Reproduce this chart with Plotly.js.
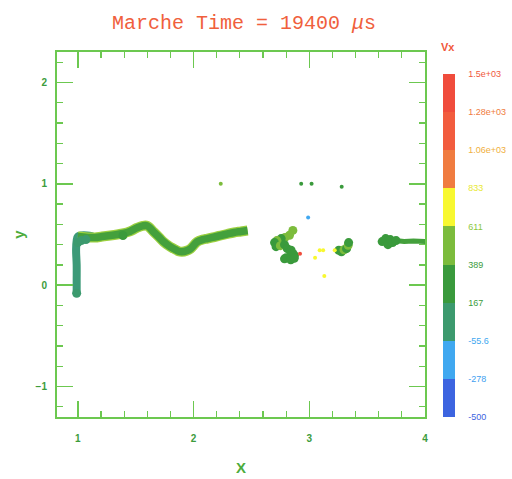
<!DOCTYPE html>
<html>
<head>
<meta charset="utf-8">
<script src="https://cdn.plot.ly/plotly-3.0.1.min.js"></script>
<style>html,body{margin:0;padding:0;background:#fff;}#chart{width:512px;height:479px;}</style>
</head>
<body>
<div id="chart"></div>
<script>
// ---- data ----
// vertical stem of the interface (teal, Vx ~ 100)
const stemX = [0.99, 0.99, 0.99, 0.985, 0.99, 1.0, 1.03, 1.08, 1.13];
const stemY = [-0.08, 0.05, 0.2, 0.35, 0.44, 0.48, 0.49, 0.49, 0.48];
// main interface band (green, Vx ~ 300)
const bandX = [1.0, 1.05, 1.10, 1.15, 1.21, 1.28, 1.34, 1.39, 1.45, 1.51, 1.56, 1.60, 1.655, 1.70, 1.742, 1.79, 1.829, 1.87, 1.90, 1.94, 1.974, 2.03, 2.08, 2.12, 2.18, 2.235, 2.29, 2.35, 2.41, 2.467];
const bandY = [0.48, 0.475, 0.47, 0.47, 0.48, 0.49, 0.50, 0.51, 0.53, 0.565, 0.585, 0.585, 0.525, 0.475, 0.427, 0.385, 0.36, 0.335, 0.33, 0.34, 0.36, 0.427, 0.45, 0.46, 0.475, 0.49, 0.505, 0.52, 0.53, 0.54];
// tail of the right-hand blob
const tailX = [3.74, 3.82, 3.90, 3.97, 4.02];
const tailY = [0.44, 0.43, 0.435, 0.43, 0.43];
// blobs (fluid parcels) with their Vx
const blobX = [0.99, 1.0, 1.03, 1.07, 1.39, 2.858, 2.829, 2.79, 2.757, 2.72, 2.70, 2.713, 2.75, 2.786, 2.81, 2.843, 2.86, 2.872, 2.829, 2.80, 2.786, 2.84, 2.87, 3.255, 3.278, 3.30, 3.322, 3.336, 3.34, 3.63, 3.66, 3.68, 3.70, 3.72, 3.75];
const blobY = [-0.08, 0.42, 0.44, 0.45, 0.49, 0.54, 0.493, 0.47, 0.46, 0.44, 0.42, 0.38, 0.39, 0.40, 0.36, 0.345, 0.31, 0.29, 0.28, 0.27, 0.26, 0.25, 0.265, 0.345, 0.33, 0.35, 0.36, 0.394, 0.42, 0.43, 0.46, 0.40, 0.45, 0.42, 0.44];
const blobV = [100, 100, 100, 100, 300, 500, 500, 500, 300, 500, 300, 300, 500, 300, 300, 300, 300, 300, 300, 300, 300, 300, 300, 300, 300, 500, 300, 500, 300, 300, 300, 300, 300, 300, 300];
// isolated specks
const speckX = [2.92, 2.93, 3.02, 3.28, 2.235, 2.99, 3.09, 3.12, 3.05, 3.13, 3.22];
const speckY = [0.31, 1.0, 1.0, 0.97, 1.0, 0.667, 0.345, 0.345, 0.27, 0.09, 0.345];
const speckV = [1400, 300, 300, 300, 500, -150, 700, 700, 700, 700, 700];
// colour bar levels and labels
const levelVals = [-500, -277.8, -55.6, 166.7, 388.9, 611.1, 833.3, 1055.6, 1277.8, 1500];
const levelText = ['-500', '-278', '-55.6', '167', '389', '611', '833', '1.06e+03', '1.28e+03', '1.5e+03'];
const levelTextColors = ['#3c64e0', '#40a0f0', '#40a8f0', '#3c9c3c', '#3c9c3c', '#8cc83c', '#e8e830', '#f0b040', '#f07c40', '#f0583c'];
const bandColors = ['#3c64e0', '#40a8f0', '#3c9a6e', '#3a9a3c', '#7cbc3c', '#f8f830', '#f07c40', '#f25c3e', '#f04c3c'];

// ---- build discrete colour scale ----
const nb = bandColors.length;
const colorscale = [];
bandColors.forEach((c, i) => { colorscale.push([i / nb, c]); colorscale.push([(i + 1) / nb, c]); });

const green = '#3c9c3c';
const axisLine = '#6cc850';
const tickFont = {family: 'Liberation Sans, Arial, sans-serif', size: 10, color: green, weight: 'bold'};

const traces = [
  {x: stemX, y: stemY, mode: 'lines', line: {color: '#3c9a78', width: 8, shape: 'spline'}, hoverinfo: 'skip', showlegend: false},
  {x: bandX, y: bandY, mode: 'lines', line: {color: '#9cd040', width: 10, shape: 'spline'}, hoverinfo: 'skip', showlegend: false},
  {x: bandX, y: bandY, mode: 'lines', line: {color: '#44a03c', width: 7.5, shape: 'spline'}, hoverinfo: 'skip', showlegend: false},
  {x: tailX, y: tailY, mode: 'lines', line: {color: '#44a03c', width: 5}, hoverinfo: 'skip', showlegend: false},
  {x: blobX, y: blobY, mode: 'markers', showlegend: false,
   marker: {size: 9, color: blobV, cmin: -500, cmax: 1500, colorscale: colorscale,
     showscale: true,
     colorbar: {x: 1.049, xanchor: 'left', xpad: 0, ypad: 0, y: 0, yanchor: 'bottom',
       lenmode: 'pixels', len: 343, thickness: 12, thicknessmode: 'pixels', outlinewidth: 0,
       tickmode: 'array', tickvals: levelVals,
       ticktext: levelText.map((t, i) => '<span style="color:' + levelTextColors[i] + '">' + t + '</span>'),
       ticks: 'outside', ticklen: 12, tickcolor: 'rgba(0,0,0,0)',
       tickfont: {family: 'Liberation Sans, Arial, sans-serif', size: 9}}}},
  {x: speckX, y: speckY, mode: 'markers', showlegend: false,
   marker: {size: 4, color: speckV, cmin: -500, cmax: 1500, colorscale: colorscale, showscale: false}}
];

const layout = {
  width: 512, height: 479,
  margin: {l: 57, r: 87, t: 52, b: 62, pad: 0, autoexpand: false},
  paper_bgcolor: '#ffffff', plot_bgcolor: '#ffffff',
  title: {text: 'Marche Time = 19400 <i>μ</i>s', x: 0.508, xref: 'paper', xanchor: 'center', y: 0.954, yref: 'container', yanchor: 'middle',
    font: {family: 'Liberation Mono, Courier New, monospace', size: 20, color: '#f0603c'}},
  xaxis: {range: [0.82, 4.0], tickmode: 'linear', tick0: 0, dtick: 1, ticks: 'inside', ticklen: 16, tickwidth: 1.5, tickcolor: axisLine,
    showline: true, linecolor: axisLine, linewidth: 2, mirror: 'ticks', showgrid: false, zeroline: false,
    minor: {tick0: 0, dtick: 0.2, ticks: 'inside', ticklen: 6, tickwidth: 1.2, tickcolor: axisLine, showgrid: false},
    tickfont: tickFont, ticklabelstandoff: 11,
    title: {text: 'X', standoff: 19, font: {family: 'Liberation Sans, Arial, sans-serif', size: 15, color: '#4cac3c', weight: 'bold'}}},
  yaxis: {range: [-1.3, 2.3], tickmode: 'linear', tick0: 0, dtick: 1, ticks: 'inside', ticklen: 16, tickwidth: 1.5, tickcolor: axisLine,
    showline: true, linecolor: axisLine, linewidth: 2, mirror: 'ticks', showgrid: false, zeroline: false,
    minor: {tick0: 0, dtick: 0.2, ticks: 'inside', ticklen: 6, tickwidth: 1.2, tickcolor: axisLine, showgrid: false},
    tickfont: tickFont, ticklabelstandoff: 6,
    title: {text: 'y', standoff: 7, font: {family: 'Liberation Sans, Arial, sans-serif', size: 15, color: '#4cac3c', weight: 'bold'}}},
  annotations: [
    {text: 'Vx', xref: 'paper', yref: 'paper', x: 1.0625, y: 1.0137, xanchor: 'center', yanchor: 'middle', showarrow: false,
     font: {family: 'Liberation Sans, Arial, sans-serif', size: 11, color: '#f0583c', weight: 'bold'}}
  ]
};

Plotly.newPlot('chart', traces, layout, {displayModeBar: false, staticPlot: true});
</script>
</body>
</html>
